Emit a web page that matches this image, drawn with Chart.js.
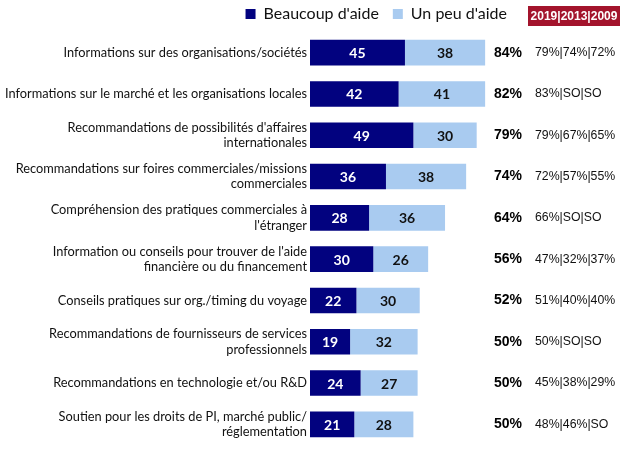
<!DOCTYPE html>
<html><head><meta charset="utf-8">
<script src="https://cdn.jsdelivr.net/npm/chart.js@4"></script>
<style>html,body{margin:0;padding:0;background:#fff}#wrap{width:624px;height:468px;position:relative}</style>
</head><body><div id="wrap"><canvas id="c" width="624" height="468"></canvas></div>
<script>
const categories = [
  "Informations sur des organisations/soci\u00e9t\u00e9s",
  "Informations sur le march\u00e9 et les organisations locales",
  ["Recommandations de possibilit\u00e9s d'affaires", "internationales"],
  ["Recommandations sur foires commerciales/missions", "commerciales"],
  ["Compr\u00e9hension des pratiques commerciales \u00e0", "l'\u00e9tranger"],
  ["Information ou conseils pour trouver de l'aide", "financi\u00e8re ou du financement"],
  "Conseils pratiques sur org./timing du voyage",
  ["Recommandations de fournisseurs de services", "professionnels"],
  "Recommandations en technologie et/ou R&D",
  ["Soutien pour les droits de PI, march\u00e9 public/", "r\u00e9glementation"]
];
const beaucoup = [45, 42, 49, 36, 28, 30, 22, 19, 24, 21];
const unPeu = [38, 41, 30, 38, 36, 26, 30, 32, 27, 28];
const totals = ["84%", "82%", "79%", "74%", "64%", "56%", "52%", "50%", "50%", "50%"];
const history = ["79%|74%|72%", "83%|SO|SO", "79%|67%|65%", "72%|57%|55%", "66%|SO|SO", "47%|32%|37%", "51%|40%|40%", "50%|SO|SO", "45%|38%|29%", "48%|46%|SO"];
const historyHeader = "2019|2013|2009";
const seriesNames = ["Beaucoup d'aide", "Un peu d'aide"];

const DARK = "#02027F", LIGHT = "#A9CBF0";

const annot = {
  id: 'annot',
  afterDatasetsDraw(chart) {
    const ctx = chart.ctx;
    const area = chart.chartArea;
    ctx.save();
    ctx.textBaseline = 'middle';
    ctx.textAlign = 'center';
    ctx.font = 'bold 14px Lato, "Open Sans", sans-serif';
    chart.data.datasets.forEach((ds, di) => {
      const meta = chart.getDatasetMeta(di);
      meta.data.forEach((bar, i) => {
        const cx = (bar.x + bar.base) / 2;
        ctx.fillStyle = di === 0 ? '#ffffff' : '#111111';
        ctx.fillText(String(ds.data[i]), cx, bar.y + 1);
      });
    });
    const ys = chart.scales.y;
    ctx.font = 'bold 14px "Liberation Sans", Arial, sans-serif';
    ctx.fillStyle = '#000';
    ctx.textAlign = 'right';
    totals.forEach((t, i) => {
      ctx.fillText(t, area.right + 1, ys.getPixelForValue(i));
    });
    ctx.font = '12.3px "Liberation Sans", Arial, sans-serif';
    ctx.fillStyle = '#111';
    ctx.textAlign = 'left';
    history.forEach((t, i) => {
      ctx.fillText(t, area.right + 14, ys.getPixelForValue(i));
    });
    ctx.fillStyle = '#A3142C';
    ctx.fillRect(528, 6, 92, 20);
    ctx.fillStyle = '#fff';
    ctx.font = 'bold 12px "Liberation Sans", Arial, sans-serif';
    ctx.textAlign = 'center';
    ctx.fillText(historyHeader, 574, 16.5);
    ctx.restore();
  }
};

new Chart(document.getElementById('c'), {
  type: 'bar',
  data: {
    labels: categories,
    datasets: [
      { label: seriesNames[0], data: beaucoup, backgroundColor: DARK, borderWidth: 0 },
      { label: seriesNames[1], data: unPeu, backgroundColor: LIGHT, borderWidth: 0 }
    ]
  },
  options: {
    indexAxis: 'y',
    responsive: false,
    animation: false,
    layout: { padding: { top: -8, bottom: 23, left: 0, right: 103 } },
    datasets: { bar: { barPercentage: 0.62, categoryPercentage: 1 } },
    plugins: {
      tooltip: { enabled: false },
      legend: {
        position: 'top',
        align: 'end',
        maxHeight: 42.5,
        labels: {
          boxWidth: 10, boxHeight: 10, padding: 14,
          color: '#111',
          font: { family: 'Lato, "Open Sans", sans-serif', size: 16 }
        }
      }
    },
    scales: {
      x: { stacked: true, display: false, min: 0, max: 100 },
      y: {
        stacked: true,
        grid: { display: false, drawTicks: false },
        border: { display: false },
        ticks: {
          color: '#111', padding: 3,
          font: { family: 'Lato, "Open Sans", sans-serif', size: 12.8 }
        },
        afterFit(s) { s.width = 310; }
      }
    }
  },
  plugins: [annot]
});
</script></body></html>
